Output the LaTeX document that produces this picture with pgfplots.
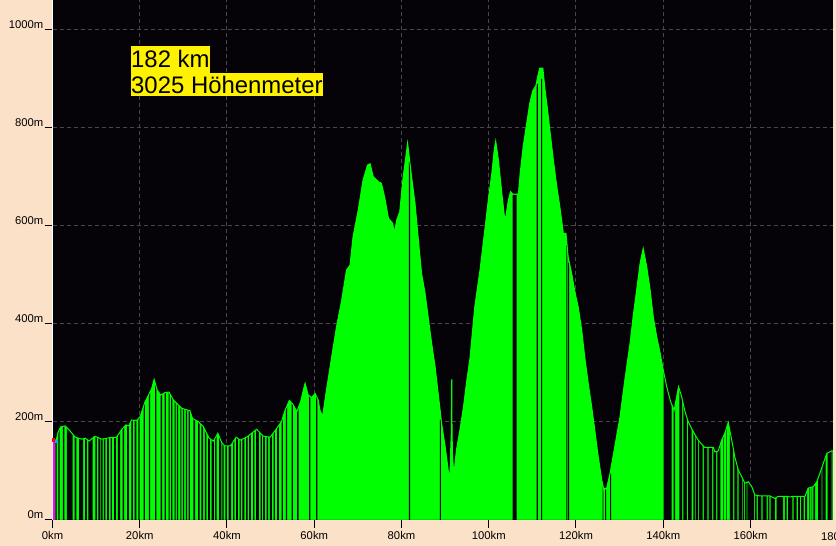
\documentclass[border=0pt]{standalone}
\usepackage{pgfplots}
\usepackage{pgfplotstable}
\pgfplotsset{compat=1.18}
\usepackage{fontspec}
\setmainfont{Liberation Sans}
\definecolor{peach}{RGB}{251,225,199}
\definecolor{gridgray}{RGB}{72,72,72}
\definecolor{profgreen}{RGB}{0,255,0}
\definecolor{bgblack}{RGB}{5,3,8}
\definecolor{startmag}{RGB}{255,0,255}

\pgfplotstableread{
x y
0.45 160
0.9 165
1.3 180
1.9 190
2.9 192
4.0 182
5.2 169
6.7 165
7.5 167
8.4 161
9.7 171
11.3 165
13.2 168
14.7 169
15.9 185
16.8 194
17.5 192
18.1 204
19.3 203
20.1 211
21.2 241
22.0 255
22.7 267
23.3 287
24.0 265
24.8 255
25.8 260
26.7 261
27.7 245
29.6 228
31.5 223
32.1 207
33.4 201
34.6 190
35.9 167
36.9 161
37.9 177
38.8 158
39.5 151
40.7 151
41.1 155
42.1 169
43.0 163
44.5 169
46.8 185
48.3 171
49.9 169
51.4 187
52.5 201
53.3 224
54.3 244
55.2 235
56.0 221
56.9 242
57.5 265
57.9 279
58.6 255
59.4 250
60.2 258
60.9 245
61.3 224
61.9 211
62.8 265
64.0 333
65.1 394
66.3 449
67.4 510
68.2 520
68.9 578
70.1 633
71.2 694
72.2 724
72.8 727
73.5 701
74.7 690
75.4 687
76.2 656
77.0 616
78.0 605
78.3 585
78.9 612
79.6 629
80.4 701
81.0 741
81.4 769
82.3 701
83.1 646
83.8 578
84.6 503
85.4 463
86.1 415
86.9 361
87.7 313
88.4 259
89.2 197
90.0 150
90.7 102
91.1 85
91.3 150
91.45 184
91.48 286
91.55 286
91.58 184
91.7 130
92.0 92
92.6 143
93.4 184
94.2 230
94.9 280
95.7 330
96.8 435
98.0 510
99.1 592
99.9 653
100.7 707
101.3 758
101.6 773
102.2 735
103.0 667
103.6 619
103.9 617
104.5 653
105.0 670
105.5 665
106.8 665
107.2 707
107.9 762
108.7 809
109.4 850
110.1 876
110.8 886
111.3 908
111.7 922
112.4 922
112.9 878
113.4 843
114.0 796
114.8 735
115.6 680
116.3 639
117.1 585
117.7 585
118.2 537
119.0 503
119.8 463
120.5 435
121.3 388
122.0 333
122.8 279
123.6 231
124.3 184
125.1 129
125.9 82
126.4 61
126.6 65
127.0 64
127.8 95
128.9 150
130.1 211
131.2 286
132.4 361
133.1 415
133.9 469
134.7 524
135.4 554
136.2 517
137.0 469
137.7 415
138.5 374
139.3 340
140.0 306
140.8 272
141.7 241
142.5 224
143.0 248
143.5 272
144.2 252
145.0 221
145.7 201
146.9 180
148.0 163
149.5 148
151.5 148
151.8 139
152.6 141
153.4 163
154.1 177
154.9 199
155.7 163
156.4 129
157.2 102
158.0 88
158.7 75
159.5 78
160.3 68
161.0 51
162.2 49
164.5 49
165.6 44
166.3 48
168.4 48
169.0 47
169.7 48
172.5 48
173.2 65
174.4 68
175.2 78
175.9 95
176.7 116
177.5 136
178.6 141
178.8 142
}\profile

% black gaps between the sample columns: (start, height) then (end, 0)
\pgfplotstableread{
x y
0 0
0.65 166
0.95 0
1.35 186
1.65 0
2.4 192
2.75 0
3.3 192
4.6 0
5.1 170
5.5 0
6.1 167
7.0 0
7.5 168
7.9 0
8.2 168
9.2 0
9.8 171
10.2 0
10.5 169
10.9 0
11.1 166
11.5 0
11.8 167
12.1 0
12.5 168
12.9 0
13.3 169
13.6 0
14.1 170
14.5 0
15.0 181
15.5 0
16.1 190
16.4 0
17.1 194
17.5 0
18.1 205
18.4 0
18.8 204
19.2 0
19.7 210
20.0 0
20.9 240
21.2 0
22.1 262
22.4 0
23.55 280
23.8 0
24.8 258
25.15 0
25.7 261
26.0 0
26.6 262
26.85 0
27.2 252
27.5 0
28.0 242
28.25 0
28.5 238
28.8 0
29.3 230
29.55 0
29.9 228
30.2 0
30.6 226
30.85 0
31.2 225
31.5 0
32.3 207
32.7 0
33.4 201
33.7 0
34.1 195
34.5 0
34.9 184
35.3 0
35.7 170
36.1 0
36.5 164
37.0 0
37.3 172
37.6 0
38.2 171
38.7 0
38.95 158
39.25 0
39.6 152
40.0 0
40.4 152
40.95 0
41.4 162
41.7 0
42.1 169
42.5 0
42.9 164
43.2 0
43.5 166
44.0 0
44.4 170
44.7 0
45.1 175
45.5 0
46.0 181
46.3 0
46.7 186
47.3 0
47.7 177
48.0 0
48.3 172
48.7 0
49.1 171
49.4 0
49.8 173
50.3 0
50.7 181
51.0 0
51.5 194
51.9 0
52.5 206
52.8 0
53.5 233
53.8 0
54.8 240
55.1 0
56.1 228
56.4 0
58.85 255
59.1 0
60.45 254
60.7 0
81.7 730
81.95 0
88.8 205
89.0 0
105.5 664
106.4 0
111.0 890
111.25 0
112.0 900
112.25 0
117.8 560
118.0 0
118.2 525
118.45 0
126.1 68
126.3 0
126.7 62
126.9 0
127.8 95
128.05 0
140.1 305
141.9 0
142.4 235
142.7 0
143.7 267
144.3 0
144.6 238
145.4 0
145.7 199
146.5 0
146.9 181
147.3 0
147.5 175
148.0 0
148.2 162
149.0 0
149.3 151
150.1 0
150.4 149
151.2 0
151.5 149
152.1 0
152.4 156
153.1 0
153.7 171
153.85 0
154.4 187
154.55 0
155.3 182
156.0 0
156.3 135
157.0 0
157.3 101
158.0 0
158.2 86
158.5 0
158.7 78
159.1 0
159.3 79
160.8 0
161.0 52
161.4 0
161.7 51
162.5 0
162.8 51
163.7 0
164.0 51
164.3 0
164.6 51
165.6 0
166.0 50
167.5 0
167.9 50
168.3 0
168.6 50
169.6 0
169.9 50
170.6 0
170.9 50
171.3 0
171.6 50
172.2 0
172.5 62
173.0 0
173.5 67
173.65 0
174.0 68
174.15 0
174.4 73
174.8 0
175.5 107
176.3 0
176.5 129
177.2 0
177.7 142
178.6 0
178.8 0
}\gaps

\begin{document}
\begin{tikzpicture}
\useasboundingbox (0bp,0bp) rectangle (836bp,546bp);
\fill[peach] (0bp,0bp) rectangle (836bp,546bp);
\begin{axis}[
  at={(52.5bp,26bp)}, anchor=south west,
  scale only axis, width=780bp, height=520bp,
  xmin=0, xmax=178.8, ymin=0, ymax=1061,
  axis background/.style={fill=bgblack},
  axis lines=left, axis line style={-},
  y axis line style={white, line width=1.6bp},
  x axis line style={black, line width=1bp},
  tick align=outside, major tick length=8bp,
  tick style={black, line width=1bp},
  xtick={0,20,...,160},
  xticklabels={0km,20km,40km,60km,80km,100km,120km,140km,160km},
  ytick={0,200,...,1000},
  yticklabels={0m,200m,400m,600m,800m,1000m},
  grid=major,
  major grid style={gridgray, dash pattern=on 4bp off 3bp, line width=1bp},
  ticklabel style={font=\fontsize{11.3}{13}\selectfont, text=black},
  xticklabel style={anchor=north, inner sep=0pt, yshift=-3bp},
  yticklabel style={anchor=south east, inner sep=0pt, xshift=-1bp, yshift=1bp},
]
\addplot[fill=profgreen, draw=none] table {\profile} \closedcycle;
\addplot[fill=bgblack, draw=none, const plot] table {\gaps} \closedcycle;
\addplot[profgreen, line width=1bp] table {\profile};
\addplot[fill=startmag, draw=none] coordinates {(0.12,0) (0.12,162) (0.6,162) (0.6,0)} \closedcycle;
\addplot[only marks, mark=square*, mark size=1.2bp, red] coordinates {(0.2,164)};
\addplot[only marks, mark=square*, mark size=1bp, cyan] coordinates {(0.95,160)};
\end{axis}
\node[anchor=north, inner sep=0pt, font=\fontsize{11.3}{13}\selectfont] at (838bp,14.3bp) {180km};
\node[anchor=north west, fill=yellow, inner sep=0pt, text height=21.3bp, text depth=5.7bp,
      font=\fontsize{24}{28}\selectfont] at (131bp,500bp) {182 km};
\node[anchor=north west, fill=yellow, inner sep=0pt, text height=20bp, text depth=2.4bp,
      font=\fontsize{24}{28}\selectfont] at (131bp,472.7bp) {3025 Höhenmeter};
\end{tikzpicture}
\end{document}
